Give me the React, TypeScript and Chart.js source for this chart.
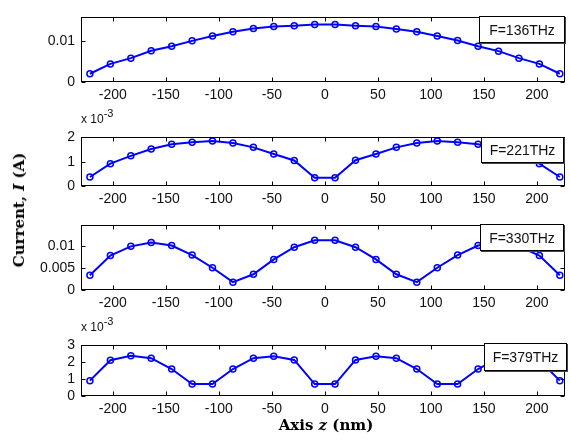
import React, { useEffect, useRef } from "react";
import { Chart, registerables } from "chart.js";

Chart.register(...registerables);

// Axis z positions (nm)
const zPositions = [-221.6, -202.3, -183.0, -163.8, -144.5, -125.2, -106.0, -86.7, -67.4, -48.2, -28.9, -9.6, 9.6, 28.9, 48.2, 67.4, 86.7, 106.0, 125.2, 144.5, 163.8, 183.0, 202.3, 221.6];

// Current I (A) for each frequency
const current136 = [0.0020, 0.0044, 0.0058, 0.0076, 0.0087, 0.0100, 0.0112, 0.0122, 0.0130, 0.0135, 0.0137, 0.0140, 0.0140, 0.0137, 0.0135, 0.0129, 0.0122, 0.0112, 0.0101, 0.0087, 0.0075, 0.0058, 0.0044, 0.0020];
const current221 = [0.37e-3, 0.92e-3, 1.24e-3, 1.52e-3, 1.72e-3, 1.80e-3, 1.85e-3, 1.77e-3, 1.59e-3, 1.32e-3, 1.05e-3, 0.34e-3, 0.34e-3, 1.06e-3, 1.32e-3, 1.59e-3, 1.77e-3, 1.85e-3, 1.80e-3, 1.72e-3, 1.52e-3, 1.24e-3, 0.92e-3, 0.37e-3];
const current330 = [0.0034, 0.0079, 0.0100, 0.0109, 0.0102, 0.0080, 0.0051, 0.0018, 0.0036, 0.0070, 0.0098, 0.0114, 0.0114, 0.0098, 0.0070, 0.0036, 0.0018, 0.0051, 0.0080, 0.0102, 0.0109, 0.0100, 0.0079, 0.0034];
const current379 = [0.91e-3, 2.12e-3, 2.39e-3, 2.24e-3, 1.60e-3, 0.71e-3, 0.71e-3, 1.60e-3, 2.24e-3, 2.36e-3, 2.14e-3, 0.71e-3, 0.71e-3, 2.14e-3, 2.36e-3, 2.24e-3, 1.60e-3, 0.71e-3, 0.71e-3, 1.60e-3, 2.24e-3, 2.39e-3, 2.12e-3, 0.91e-3];

// Tick labels
const xTicks = [-200, -150, -100, -50, 0, 50, 100, 150, 200];
const yTicks136 = [0, 0.01];
const yTicks221 = [0, 0.001, 0.002];
const yTicks330 = [0, 0.005, 0.01];
const yTicks379 = [0, 0.001, 0.002, 0.003];
const yMax = [0.0157, 0.002, 0.0148, 0.003];
const legendLabels = ["F=136THz", "F=221THz", "F=330THz", "F=379THz"];
const scaled = [false, true, false, true];

const seriesList = [current136, current221, current330, current379];
const yTickList = [yTicks136, yTicks221, yTicks330, yTicks379];

// Layout (pixels)
const W = 570;
const PLOT_LEFT = 81;
const PLOT_RIGHT = 567;
const PAD_T = 6;
const XAXIS_H = 30;
const plotTops = [9, 129, 217, 337];
const plotHeights = [73, 57, 73, 59];
const legendBoxes = [
  { left: 479, top: 16, width: 86, height: 27 },
  { left: 481, top: 137, width: 83, height: 26 },
  { left: 480, top: 224, width: 84, height: 27 },
  { left: 484, top: 343, width: 83, height: 28 },
];

const TICK_FONT = { family: "Arial, 'Liberation Sans', sans-serif", size: 14 };

const framePlugin = {
  id: "matlabFrame",
  afterDraw(chart: any) {
    const { ctx, chartArea, scales } = chart;
    const l = Math.round(chartArea.left) + 0.5;
    const r = Math.round(chartArea.right) - 0.5;
    const t = Math.round(chartArea.top) + 0.5;
    const b = Math.round(chartArea.bottom) - 0.5;
    ctx.save();
    ctx.strokeStyle = "#000";
    ctx.lineWidth = 1;
    ctx.strokeRect(l, t, r - l, b - t);
    const tl = 4;
    ctx.beginPath();
    scales.x.ticks.forEach((tk: any) => {
      const px = Math.round(scales.x.getPixelForValue(tk.value)) + 0.5;
      ctx.moveTo(px, b);
      ctx.lineTo(px, b - tl);
      ctx.moveTo(px, t);
      ctx.lineTo(px, t + tl);
    });
    scales.y.ticks.forEach((tk: any) => {
      const py = Math.round(scales.y.getPixelForValue(tk.value)) + 0.5;
      ctx.moveTo(l, py);
      ctx.lineTo(l + tl, py);
      ctx.moveTo(r, py);
      ctx.lineTo(r - tl, py);
    });
    ctx.stroke();
    ctx.restore();
  },
};

function Panel({ idx }: { idx: number }) {
  const ref = useRef<HTMLCanvasElement | null>(null);
  const h = PAD_T + plotHeights[idx] + XAXIS_H;
  useEffect(() => {
    if (!ref.current) return;
    const data = zPositions.map((z, i) => ({ x: z, y: seriesList[idx][i] }));
    const yt = yTickList[idx];
    const chart = new Chart(ref.current, {
      type: "line",
      data: {
        datasets: [
          {
            label: legendLabels[idx],
            data,
            borderColor: "#0000ff",
            borderWidth: 2,
            pointRadius: 3,
            pointBorderWidth: 1.5,
            pointBorderColor: "#0000ff",
            pointBackgroundColor: "rgba(0,0,0,0)",
            tension: 0,
          },
        ],
      },
      options: {
        animation: false,
        responsive: false,
        maintainAspectRatio: false,
        layout: { padding: { top: PAD_T, left: 0, right: W - PLOT_RIGHT, bottom: 0 } },
        plugins: { legend: { display: false }, tooltip: { enabled: false } },
        scales: {
          x: {
            type: "linear",
            min: -230,
            max: 226,
            grid: { display: false, drawTicks: false },
            border: { display: false },
            afterFit: (s: any) => {
              s.height = XAXIS_H;
            },
            afterBuildTicks: (s: any) => {
              s.ticks = xTicks.map((v) => ({ value: v }));
            },
            ticks: {
              font: TICK_FONT,
              color: "#111",
              padding: 5,
              maxRotation: 0,
              autoSkip: false,
              callback: (v: any) => String(v),
            },
          },
          y: {
            type: "linear",
            min: 0,
            max: yMax[idx],
            grid: { display: false, drawTicks: false },
            border: { display: false },
            afterFit: (s: any) => {
              s.width = PLOT_LEFT;
            },
            afterBuildTicks: (s: any) => {
              s.ticks = yt.map((v) => ({ value: v }));
            },
            ticks: {
              font: TICK_FONT,
              color: "#111",
              padding: 6,
              autoSkip: false,
              callback: (v: any) => {
                const n = Number(v);
                if (scaled[idx]) return String(Math.round(n * 1000));
                return String(parseFloat(n.toFixed(4)));
              },
            },
          },
        },
      },
      plugins: [framePlugin],
    } as any);
    return () => chart.destroy();
  }, [idx]);
  return (
    <canvas
      ref={ref}
      width={W}
      height={h}
      style={{ position: "absolute", left: 0, top: plotTops[idx] - PAD_T, width: W, height: h }}
    />
  );
}

export default function App() {
  return (
    <div
      style={{
        position: "absolute",
        left: 0,
        top: 0,
        width: W,
        height: 441,
        background: "#fff",
        overflow: "hidden",
      }}
    >
      {[0, 1, 2, 3].map((i) => (
        <Panel key={i} idx={i} />
      ))}
      {[1, 3].map((i) => (
        <div
          key={"sc" + i}
          style={{
            position: "absolute",
            left: 81,
            top: plotTops[i] - 22,
            font: "12px Arial, 'Liberation Sans', sans-serif",
            color: "#111",
            whiteSpace: "nowrap",
          }}
        >
          x 10<sup style={{ fontSize: 11, verticalAlign: "6px" }}>-3</sup>
        </div>
      ))}
      {legendBoxes.map((b, i) => (
        <div
          key={"lg" + i}
          style={{
            position: "absolute",
            left: b.left,
            top: b.top,
            width: b.width,
            height: b.height,
            boxSizing: "border-box",
            border: "1px solid #000",
            boxShadow: "1px 1px 0 #444",
            background: "#fff",
            display: "flex",
            alignItems: "center",
            justifyContent: "center",
            font: "14px Arial, 'Liberation Sans', sans-serif",
            color: "#111",
            whiteSpace: "nowrap",
          }}
        >
          {legendLabels[i]}
        </div>
      ))}
      <div
        style={{
          position: "absolute",
          left: 19,
          top: 210,
          transform: "translate(-50%, -50%) rotate(-90deg)",
          font: "bold 15px 'DejaVu Serif', serif",
          color: "#000",
          whiteSpace: "nowrap",
        }}
      >
        Current, <i>I</i> (A)
      </div>
      <div
        style={{
          position: "absolute",
          left: 326,
          top: 425,
          transform: "translate(-50%, -50%)",
          font: "bold 15px 'DejaVu Serif', serif",
          color: "#000",
          whiteSpace: "nowrap",
        }}
      >
        Axis <i>z</i> (nm)
      </div>
    </div>
  );
}
